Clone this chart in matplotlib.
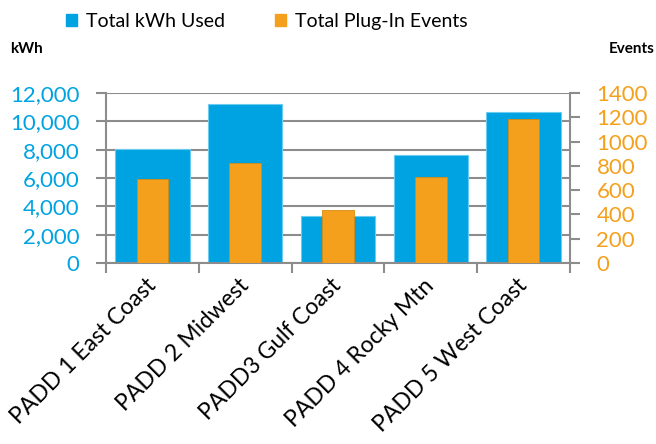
import matplotlib.pyplot as plt
import numpy as np
from matplotlib.patches import Patch

plt.rcParams['font.family'] = ['Lato', 'DejaVu Sans']

# 数据
regions = ['PADD 1 East Coast', 'PADD 2 Midwest', 'PADD3 Gulf Coast',
           'PADD 4 Rocky Mtn', 'PADD 5 West Coast']
kwh_used = [8070, 11200, 3320, 7600, 10650]
plug_events = [692, 824, 435, 711, 1182]

BLUE = '#00A3E2'
ORANGE = '#F5A01C'
GRID = '#8C8C8C'

fig = plt.figure(figsize=(6.56, 4.44), dpi=100)
ax = fig.add_axes([0.1616, 0.4077, 0.7073, 0.3828])
ax2 = ax.twinx()

x = np.arange(len(regions))
ax.bar(x, kwh_used, width=0.8, color=BLUE, edgecolor='#6CCBF0', linewidth=0.8, zorder=2)
ax2.bar(x, plug_events, width=0.34, color=ORANGE, edgecolor='#D88A10', linewidth=0.6, zorder=3)

ax.set_xlim(-0.5, len(regions) - 0.5)
ax.set_ylim(0, 12000)
ax2.set_ylim(0, 1400)
ax.set_yticks(np.arange(0, 12001, 2000))
ax2.set_yticks(np.arange(0, 1401, 200))
ax.set_yticklabels([f'{v:,}' for v in range(0, 12001, 2000)])

ax.grid(axis='y', color=GRID, linewidth=1.5, zorder=0)
ax.set_axisbelow(True)

# x 轴: 刻度在类别之间
ax.set_xticks(x)
ax.set_xticklabels(regions, rotation=45, ha='right', va='center',
                   rotation_mode='anchor', fontsize=16.5)
ax.tick_params(axis='x', which='major', length=0, pad=14)
ax.set_xticks(np.arange(-0.5, len(regions)), minor=True)
ax.tick_params(axis='x', which='minor', length=7, width=1.5, color=GRID)

ax.tick_params(axis='y', colors=GRID, labelcolor=BLUE, labelsize=16,
               length=7, width=1.5, pad=12)
ax2.tick_params(axis='y', colors=GRID, labelcolor=ORANGE, labelsize=16,
                length=7, width=1.5, pad=12)

for a in (ax, ax2):
    a.spines['top'].set_visible(False)
    for s in ('left', 'right', 'bottom'):
        a.spines[s].set_color(GRID)
        a.spines[s].set_linewidth(1.5)
ax.spines['right'].set_visible(False)
ax2.spines['left'].set_visible(False)
ax2.spines['bottom'].set_visible(False)

fig.text(0.015, 0.89, 'kWh', fontsize=11, fontweight='bold', ha='left', va='center')
fig.text(0.998, 0.89, 'Events', fontsize=11, fontweight='bold', ha='right', va='center')

handles = [Patch(color=BLUE, label='Total kWh Used'),
           Patch(color=ORANGE, label='Total Plug-In Events')]
fig.legend(handles=handles, loc='center', bbox_to_anchor=(0.407, 0.952), ncol=2,
           frameon=False, fontsize=14, handlelength=0.55, handleheight=0.55,
           handletextpad=0.45, columnspacing=2.6)

fig.savefig('out.png', dpi=100)
